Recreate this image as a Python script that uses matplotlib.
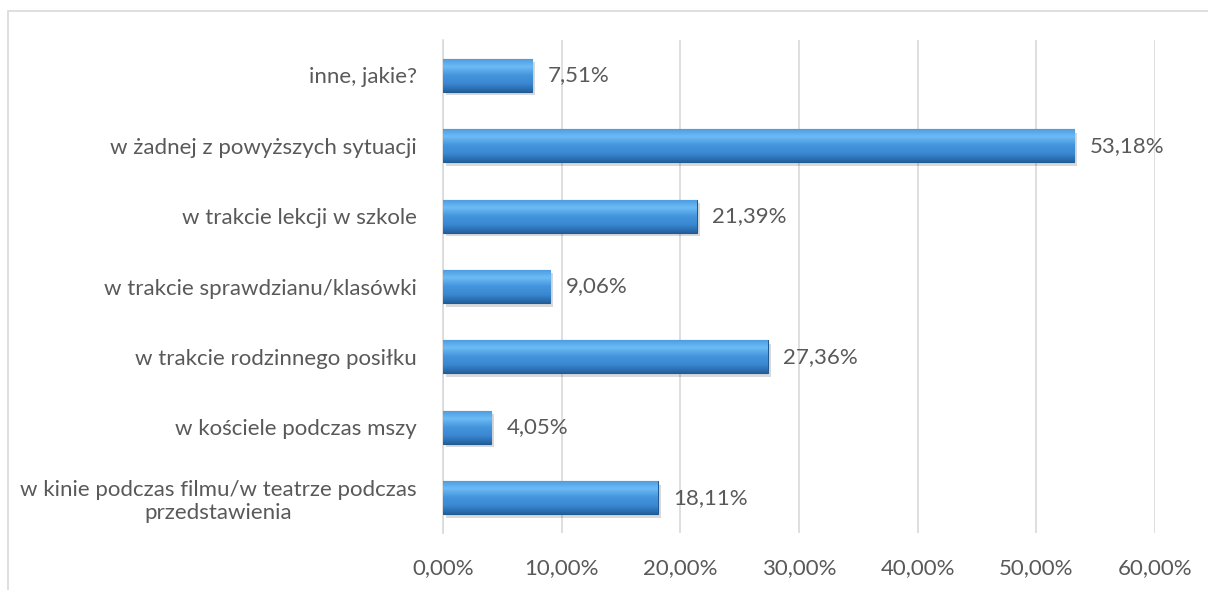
import numpy as np
import matplotlib
matplotlib.use("Agg")
import matplotlib.pyplot as plt
from matplotlib.patches import Rectangle

categories = [
    "w kinie podczas filmu/w teatrze podczas\nprzedstawienia",
    "w kościele podczas mszy",
    "w trakcie rodzinnego posiłku",
    "w trakcie sprawdzianu/klasówki",
    "w trakcie lekcji w szkole",
    "w żadnej z powyższych sytuacji",
    "inne, jakie?",
]
values = [18.11, 4.05, 27.36, 9.06, 21.39, 53.18, 7.51]
ticks = [0, 10, 20, 30, 40, 50, 60]

plt.rcParams['font.family'] = ['Lato', 'DejaVu Sans']
txt = '#595959'
fs = 16

fig = plt.figure(figsize=(12.08, 5.9), dpi=100)
ax = fig.add_axes([0.3667, 0.0966, 0.5894, 0.8356])

# outer chart border (only top/left visible in the original crop)
fig.patches.append(Rectangle((8 / 1208, -0.1), 1.2, 1 - 11 / 590 + 0.1,
                             transform=fig.transFigure, fill=False,
                             edgecolor='#D9D9D9', lw=1.2))

y = np.arange(len(categories))
h = 0.47
bars = ax.barh(y, values, height=h, color='#3A87D0', edgecolor='#1F5A94',
               lw=0.8, zorder=3)

# shadow + vertical gradient for the glossy look
grad = np.linspace(0, 1, 100).reshape(-1, 1)
cmap = matplotlib.colors.LinearSegmentedColormap.from_list(
    'g', ['#23619E', '#3A88D2', '#4495DD', '#6DBBF5', '#4A9AE0'])
for b, v, yi in zip(bars, values, y):
    ax.add_patch(Rectangle((0.25, yi - h / 2 - 0.05), v, h, color='#000000',
                           alpha=0.15, lw=0, zorder=2))
    im = ax.imshow(grad, extent=(0, v, yi - h / 2, yi + h / 2), cmap=cmap,
                   aspect='auto', zorder=3.5, origin='lower')
    im.set_clip_path(b)
    ax.text(v + 1.3, yi, f"{v:.2f}%".replace('.', ','), va='center',
            ha='left', fontsize=fs, color=txt)

ax.set_xlim(0, 60)
ax.set_ylim(-0.5, len(categories) - 0.5)
ax.set_xticks(ticks)
ax.set_xticklabels([f"{t:.2f}%".replace('.', ',') for t in ticks],
                   fontsize=fs, color=txt)
ax.set_yticks(y)
ax.set_yticklabels(categories, fontsize=fs, color=txt, ha='right',
                   multialignment='center')
ax.tick_params(axis='y', pad=19, length=0)
ax.tick_params(axis='x', length=0, pad=18)
ax.grid(axis='x', color='#D9D9D9', lw=1.2, zorder=0)
for s in ['top', 'right', 'bottom']:
    ax.spines[s].set_visible(False)
ax.spines['left'].set_color('#D9D9D9')
ax.spines['left'].set_linewidth(1.2)

fig.savefig('out.png', dpi=100)
